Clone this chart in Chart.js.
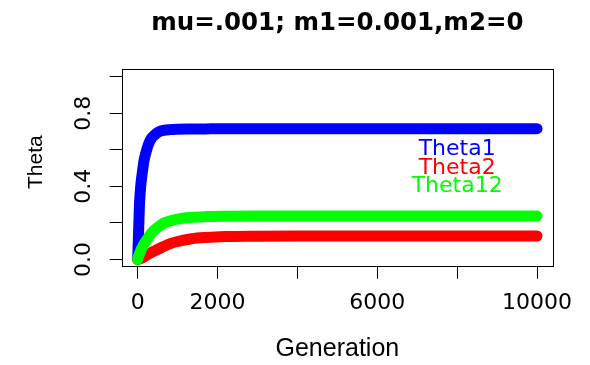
<!DOCTYPE html>
<html>
<head>
<meta charset="utf-8">
<script src="https://cdn.jsdelivr.net/npm/chart.js@4"></script>
<style>
  html, body { margin: 0; padding: 0; background: #fff; }
  #wrap { width: 590px; height: 365px; position: relative; }
</style>
</head>
<body>
<div id="wrap"><canvas id="chart"></canvas></div>
<script>
const generations = [0, 20, 45, 80, 120, 150, 190, 240, 290, 350, 420, 520, 650, 800, 1000, 1350, 1700, 2200, 3000, 4000, 5000, 6000, 7000, 8000, 9000, 10000];
const theta1  = [0, 0.13, 0.30, 0.41, 0.48, 0.53, 0.57, 0.61, 0.64, 0.665, 0.68, 0.697, 0.706, 0.71, 0.712, 0.713, 0.714, 0.715, 0.715, 0.715, 0.715, 0.715, 0.715, 0.715, 0.715, 0.715];
const theta2  = [0, 0, 0.002, 0.005, 0.009, 0.013, 0.018, 0.025, 0.031, 0.038, 0.046, 0.057, 0.07, 0.085, 0.098, 0.113, 0.12, 0.125, 0.127, 0.128, 0.128, 0.128, 0.128, 0.128, 0.128, 0.128];
const theta12 = [0, 0.015, 0.03, 0.05, 0.068, 0.08, 0.095, 0.11, 0.128, 0.145, 0.16, 0.178, 0.198, 0.21, 0.22, 0.23, 0.234, 0.236, 0.237, 0.237, 0.237, 0.237, 0.237, 0.237, 0.237, 0.237];

const seriesNames = ['Theta1', 'Theta2', 'Theta12'];
const seriesColors = ['#0000ff', '#ff0000', '#00ff00'];
// where the R text() labels sit, in data units
const labelX = 8000;
const labelY = [0.6, 0.5, 0.4];

const xTicks = [0, 2000, 4000, 6000, 8000, 10000];
const xTickLabels = ['0', '2000', '', '6000', '', '10000'];
const yTicks = [0, 0.2, 0.4, 0.6, 0.8, 1.0];
const yTickLabels = ['0.0', '', '0.4', '', '0.8', ''];

const toPoints = (ys) => generations.map((g, i) => ({ x: g, y: ys[i] }));
const series = [theta1, theta2, theta12];

const boxPlugin = {
  id: 'box',
  beforeDatasetsDraw(chart) {
    const { ctx, chartArea: a } = chart;
    ctx.save();
    ctx.strokeStyle = '#000';
    ctx.lineWidth = 1;
    ctx.strokeRect(Math.round(a.left) + 0.5, Math.round(a.top) + 0.5, Math.round(a.right - a.left), Math.round(a.bottom - a.top));
    ctx.restore();
  },
};

const labelPlugin = {
  id: 'textLabels',
  afterDatasetsDraw(chart) {
    const { ctx, scales: { x, y } } = chart;
    ctx.save();
    ctx.font = '22px "DejaVu Sans"';
    ctx.textAlign = 'center';
    ctx.textBaseline = 'middle';
    seriesNames.forEach((name, i) => {
      ctx.fillStyle = seriesColors[i];
      ctx.fillText(name, x.getPixelForValue(labelX), y.getPixelForValue(labelY[i]));
    });
    ctx.restore();
  },
};

const tickFont = { family: 'DejaVu Sans', size: 22 };
const tickGrid = { display: true, drawOnChartArea: false, drawTicks: true, tickLength: 12, color: '#000', lineWidth: 1 };

new Chart(document.getElementById('chart'), {
  type: 'line',
  data: {
    datasets: series.map((ys, i) => ({
      label: seriesNames[i],
      data: toPoints(ys),
      borderColor: seriesColors[i],
      backgroundColor: seriesColors[i],
      borderWidth: 11,
      pointRadius: 0,
      cubicInterpolationMode: 'monotone',
      borderCapStyle: 'round',
      borderJoinStyle: 'round',
      order: 3 - i,
    })),
  },
  options: {
    responsive: true,
    maintainAspectRatio: false,
    animation: false,
    events: [],
    layout: { padding: { top: 0, right: 37, bottom: 0, left: 0 } },
    plugins: {
      legend: { display: false },
      tooltip: { enabled: false },
      title: {
        display: true,
        fullSize: false,
        text: 'mu=.001; m1=0.001,m2=0',
        color: '#000',
        font: { family: 'DejaVu Sans', size: 24.5, weight: 'bold' },
        padding: { top: 8.6, bottom: 31.3 },
      },
    },
    scales: {
      x: {
        type: 'linear',
        min: -400,
        max: 10400,
        afterBuildTicks: (s) => { s.ticks = xTicks.map((v) => ({ value: v })); },
        afterFit: (s) => { s.height = 98.3; },
        ticks: {
          autoSkip: false, minRotation: 0, maxRotation: 0, padding: 11,
          color: '#000', font: tickFont,
          callback: (v, i) => xTickLabels[i],
        },
        grid: tickGrid,
        border: { display: false },
        title: {
          display: true, text: 'Generation', color: '#000',
          font: { family: 'Liberation Sans', size: 25 },
          padding: { top: 0, bottom: 1 },
        },
      },
      y: {
        type: 'linear',
        min: -0.04,
        max: 1.04,
        afterBuildTicks: (s) => { s.ticks = yTicks.map((v) => ({ value: v })); },
        afterFit: (s) => { s.width = 121.7; },
        ticks: {
          autoSkip: false, minRotation: 90, maxRotation: 90, crossAlign: 'center', padding: 8,
          color: '#000', font: tickFont,
          callback: (v, i) => yTickLabels[i],
        },
        grid: tickGrid,
        border: { display: false },
        title: {
          display: true, text: '  Theta', color: '#000',
          font: { family: 'Liberation Sans', size: 21 },
          padding: { top: 23.2, bottom: 0 },
        },
      },
    },
  },
  plugins: [boxPlugin, labelPlugin],
});
</script>
</body>
</html>
